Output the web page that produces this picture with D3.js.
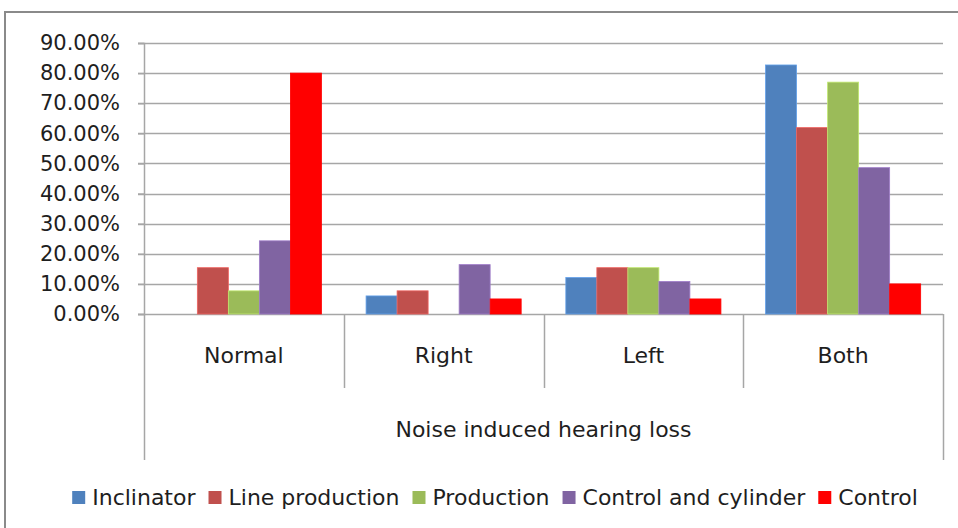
<!DOCTYPE html>
<html>
<head>
<meta charset="utf-8">
<script src="https://cdn.jsdelivr.net/npm/d3@7"></script>
<style>
  html, body { margin: 0; padding: 0; background: #fff; }
  svg { display: block; }
  text { font-family: "DejaVu Sans", sans-serif; fill: #1e1e1e; }
</style>
</head>
<body>
<svg id="chart" width="958" height="528"></svg>
<script>
const categories = ["Normal", "Right", "Left", "Both"];
const groupLabel = "Noise induced hearing loss";
const seriesNames = ["Inclinator", "Line production", "Production", "Control and cylinder", "Control"];
const seriesColors = ["#4F81BD", "#C0504D", "#9BBB59", "#8064A2", "#FF0000"];
// values per series, in order of categories (fractions)
const inclinator       = [0.0,    0.06,   0.121,  0.827];
const lineProduction   = [0.1538, 0.0769, 0.1538, 0.619];
const production       = [0.0769, 0.0,    0.1538, 0.77];
const controlCylinder  = [0.243,  0.164,  0.108,  0.486];
const control          = [0.80,   0.05,   0.05,   0.10];
const yTicks = [0, 0.1, 0.2, 0.3, 0.4, 0.5, 0.6, 0.7, 0.8, 0.9];

const seriesValues = [inclinator, lineProduction, production, controlCylinder, control];

const svg = d3.select("#chart");
const mLeft = 144, mRight = 943, mTop = 43, mBottom = 314;

// outer frame
svg.append("rect").attr("x", 5).attr("y", 12).attr("width", 1000).attr("height", 600)
  .attr("fill", "none").attr("stroke", "#8a8a8a").attr("stroke-width", 2);

const y = d3.scaleLinear().domain([0, 0.9]).range([mBottom, mTop]);
const x0 = d3.scaleBand().domain(categories).range([mLeft, mRight]).padding(0);
const x1 = d3.scaleBand().domain(seriesNames).range([0, x0.bandwidth()]).paddingInner(0).paddingOuter(0.72);

const gridColor = "#a6a6a6";
// gridlines
svg.append("g").selectAll("line").data(yTicks).join("line")
  .attr("x1", mLeft - 6).attr("x2", mRight)
  .attr("y1", d => Math.round(y(d)) + 0.5).attr("y2", d => Math.round(y(d)) + 0.5)
  .attr("stroke", gridColor).attr("stroke-width", 1.5);

// y axis
const yAxis = d3.axisLeft(y).tickValues(yTicks).tickFormat(d3.format(".2%")).tickSize(6).tickPadding(18);
const gy = svg.append("g").attr("transform", `translate(${mLeft},0)`).call(yAxis);
gy.select(".domain").attr("stroke", gridColor).attr("stroke-width", 1.5);
gy.selectAll(".tick line").attr("stroke", gridColor).attr("stroke-width", 1.5);
gy.selectAll("text").style("font-size", "21px").style("font-family", "'DejaVu Sans', sans-serif").attr("fill", "#1e1e1e");

// bars
const barData = [];
seriesNames.forEach((s, si) => {
  categories.forEach((c, ci) => {
    barData.push({ series: s, cat: c, value: seriesValues[si][ci], color: seriesColors[si] });
  });
});
svg.append("g").selectAll("rect").data(barData.filter(d => d.value > 0)).join("rect")
  .attr("x", d => x0(d.cat) + x1(d.series))
  .attr("width", x1.bandwidth())
  .attr("y", d => y(d.value))
  .attr("height", d => y(0) - y(d.value))
  .attr("fill", d => d.color)
  .attr("stroke", d => d3.color(d.color).brighter(0.6))
  .attr("stroke-width", 0.8);

// category axis lines
const catBounds = categories.map(c => x0(c)).concat([mRight]);
svg.append("g").selectAll("line").data(catBounds).join("line")
  .attr("x1", d => Math.round(d) + 0.5).attr("x2", d => Math.round(d) + 0.5)
  .attr("y1", mBottom)
  .attr("y2", (d, i) => (i === 0 || i === catBounds.length - 1) ? 460 : 388)
  .attr("stroke", gridColor).attr("stroke-width", 1.5);

// category labels
svg.append("g").selectAll("text").data(categories).join("text")
  .attr("x", d => x0(d) + x0.bandwidth() / 2).attr("y", 363)
  .attr("text-anchor", "middle").style("font-size", "22px")
  .text(d => d);

svg.append("text").attr("x", (mLeft + mRight) / 2).attr("y", 437)
  .attr("text-anchor", "middle").style("font-size", "22px").text(groupLabel);

// legend
const legend = svg.append("g");
const items = legend.selectAll("g").data(seriesNames).join("g");
items.append("rect").attr("width", 13).attr("height", 13).attr("y", -14)
  .attr("fill", (d, i) => seriesColors[i]);
items.append("text").attr("x", 20).attr("y", 0).style("font-size", "22px").text(d => d);
let xPos = 0;
const pos = [];
items.each(function(d) {
  const w = d3.select(this).select("text").node().getComputedTextLength();
  pos.push(xPos);
  xPos += 20 + w + 13;
});
const total = xPos - 13;
const startX = 495 - total / 2;
items.attr("transform", (d, i) => `translate(${startX + pos[i]},505)`);
</script>
</body>
</html>
